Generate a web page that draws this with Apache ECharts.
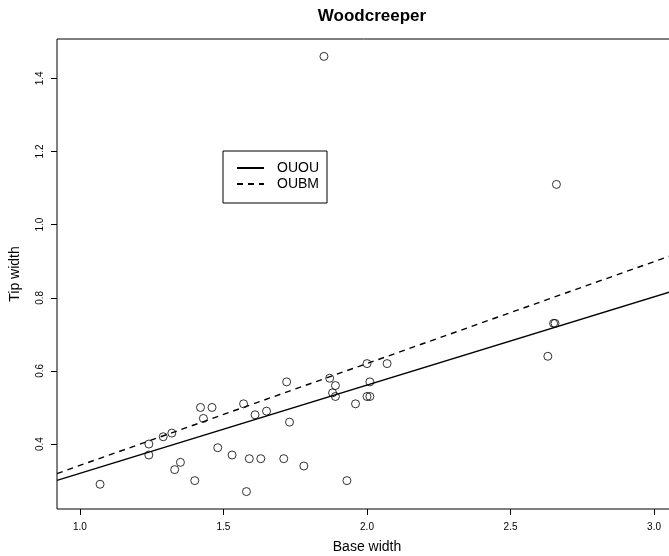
<!DOCTYPE html>
<html>
<head>
<meta charset="utf-8">
<script src="https://cdn.jsdelivr.net/npm/echarts@6/dist/echarts.min.js"></script>
<style>
  html, body { margin: 0; padding: 0; background: #ffffff; }
  #chart { width: 669px; height: 556px; }
</style>
</head>
<body>
<div id="chart"></div>
<script>
// ---- data ----
const baseWidth = [1.07, 1.24, 1.24, 1.29, 1.32, 1.33, 1.35, 1.40, 1.42, 1.43,
                   1.46, 1.48, 1.53, 1.57, 1.58, 1.59, 1.61, 1.63, 1.65, 1.71,
                   1.72, 1.73, 1.78, 1.85, 1.87, 1.88, 1.89, 1.89, 1.93, 1.96,
                   2.00, 2.01, 2.00, 2.01, 2.07, 2.63, 2.65, 2.655, 2.66];
const tipWidth  = [0.29, 0.40, 0.37, 0.42, 0.43, 0.33, 0.35, 0.30, 0.50, 0.47,
                   0.50, 0.39, 0.37, 0.51, 0.27, 0.36, 0.48, 0.36, 0.49, 0.36,
                   0.57, 0.46, 0.34, 1.46, 0.58, 0.54, 0.56, 0.53, 0.30, 0.51,
                   0.62, 0.57, 0.53, 0.53, 0.62, 0.64, 0.73, 0.73, 1.11];
const lineNames      = ['OUOU', 'OUBM'];
const lineIntercepts = [0.0785, 0.063];
const lineSlopes     = [0.2414, 0.2786];
const xTicks = [1.0, 1.5, 2.0, 2.5, 3.0];
const yTicks = [0.4, 0.6, 0.8, 1.0, 1.2, 1.4];
const xRange = [0.92, 3.08];
const yRange = [0.2224, 1.5076];

const FONT = '"Liberation Sans", Arial, Helvetica, sans-serif';
const points = baseWidth.map((x, i) => [x, tipWidth[i]]);
const lineData = lineNames.map((n, i) =>
  xRange.map(x => [x, lineIntercepts[i] + lineSlopes[i] * x]));

const chart = echarts.init(document.getElementById('chart'), null, { renderer: 'canvas' });
chart.setOption({
  backgroundColor: '#ffffff',
  animation: false,
  title: {
    text: 'Woodcreeper',
    left: 367, top: 3, textAlign: 'center',
    textStyle: { fontFamily: FONT, fontSize: 17, fontWeight: 'bold', color: '#000' }
  },
  grid: {
    left: 57, top: 39, width: 620, height: 470,
    containLabel: false, outerBoundsMode: 'none',
    show: true, borderColor: '#000', borderWidth: 1, backgroundColor: 'transparent'
  },
  legend: {
    orient: 'vertical', left: 223, top: 151,
    data: lineNames,
    itemWidth: 27, itemHeight: 14, itemGap: 2,
    padding: [10, 8, 12, 13],
    borderColor: '#000', borderWidth: 1,
    itemStyle: { opacity: 0 },
    textStyle: { fontFamily: FONT, fontSize: 14, color: '#000', padding: [0, 0, 0, 8] }
  },
  xAxis: {
    type: 'value', min: xRange[0], max: xRange[1],
    name: 'Base width', nameLocation: 'middle', nameGap: 31,
    nameTextStyle: { fontFamily: FONT, fontSize: 14, color: '#000' },
    axisLine: { show: false },
    axisTick: { show: true, length: 6, customValues: xTicks, lineStyle: { color: '#000' } },
    axisLabel: { customValues: xTicks, margin: 13, fontFamily: FONT, fontSize: 10, color: '#000',
                 formatter: v => v.toFixed(1) },
    splitLine: { show: false }
  },
  yAxis: {
    type: 'value', min: yRange[0], max: yRange[1],
    name: 'Tip width', nameLocation: 'middle', nameGap: 35,
    nameTextStyle: { fontFamily: FONT, fontSize: 14, color: '#000' },
    axisLine: { show: false },
    axisTick: { show: true, length: 6, customValues: yTicks, lineStyle: { color: '#000' } },
    axisLabel: { customValues: yTicks, rotate: 90, margin: 12, fontFamily: FONT, fontSize: 10, color: '#000',
                 formatter: v => v.toFixed(1) },
    splitLine: { show: false }
  },
  series: [
    {
      name: 'points', type: 'scatter', data: points,
      symbol: 'circle', symbolSize: 8,
      itemStyle: { color: 'rgba(255,255,255,0)', borderColor: '#000', borderWidth: 1 },
      z: 2
    },
    {
      name: lineNames[0], type: 'line', data: lineData[0],
      symbol: 'none', showSymbol: false, clip: true,
      lineStyle: { color: '#000', width: 1.4, type: 'solid' },
      itemStyle: { color: '#000' },
      z: 3
    },
    {
      name: lineNames[1], type: 'line', data: lineData[1],
      symbol: 'none', showSymbol: false, clip: true,
      lineStyle: { color: '#000', width: 1.4, type: [6, 5] },
      itemStyle: { color: '#000' },
      z: 3
    }
  ]
});
</script>
</body>
</html>
